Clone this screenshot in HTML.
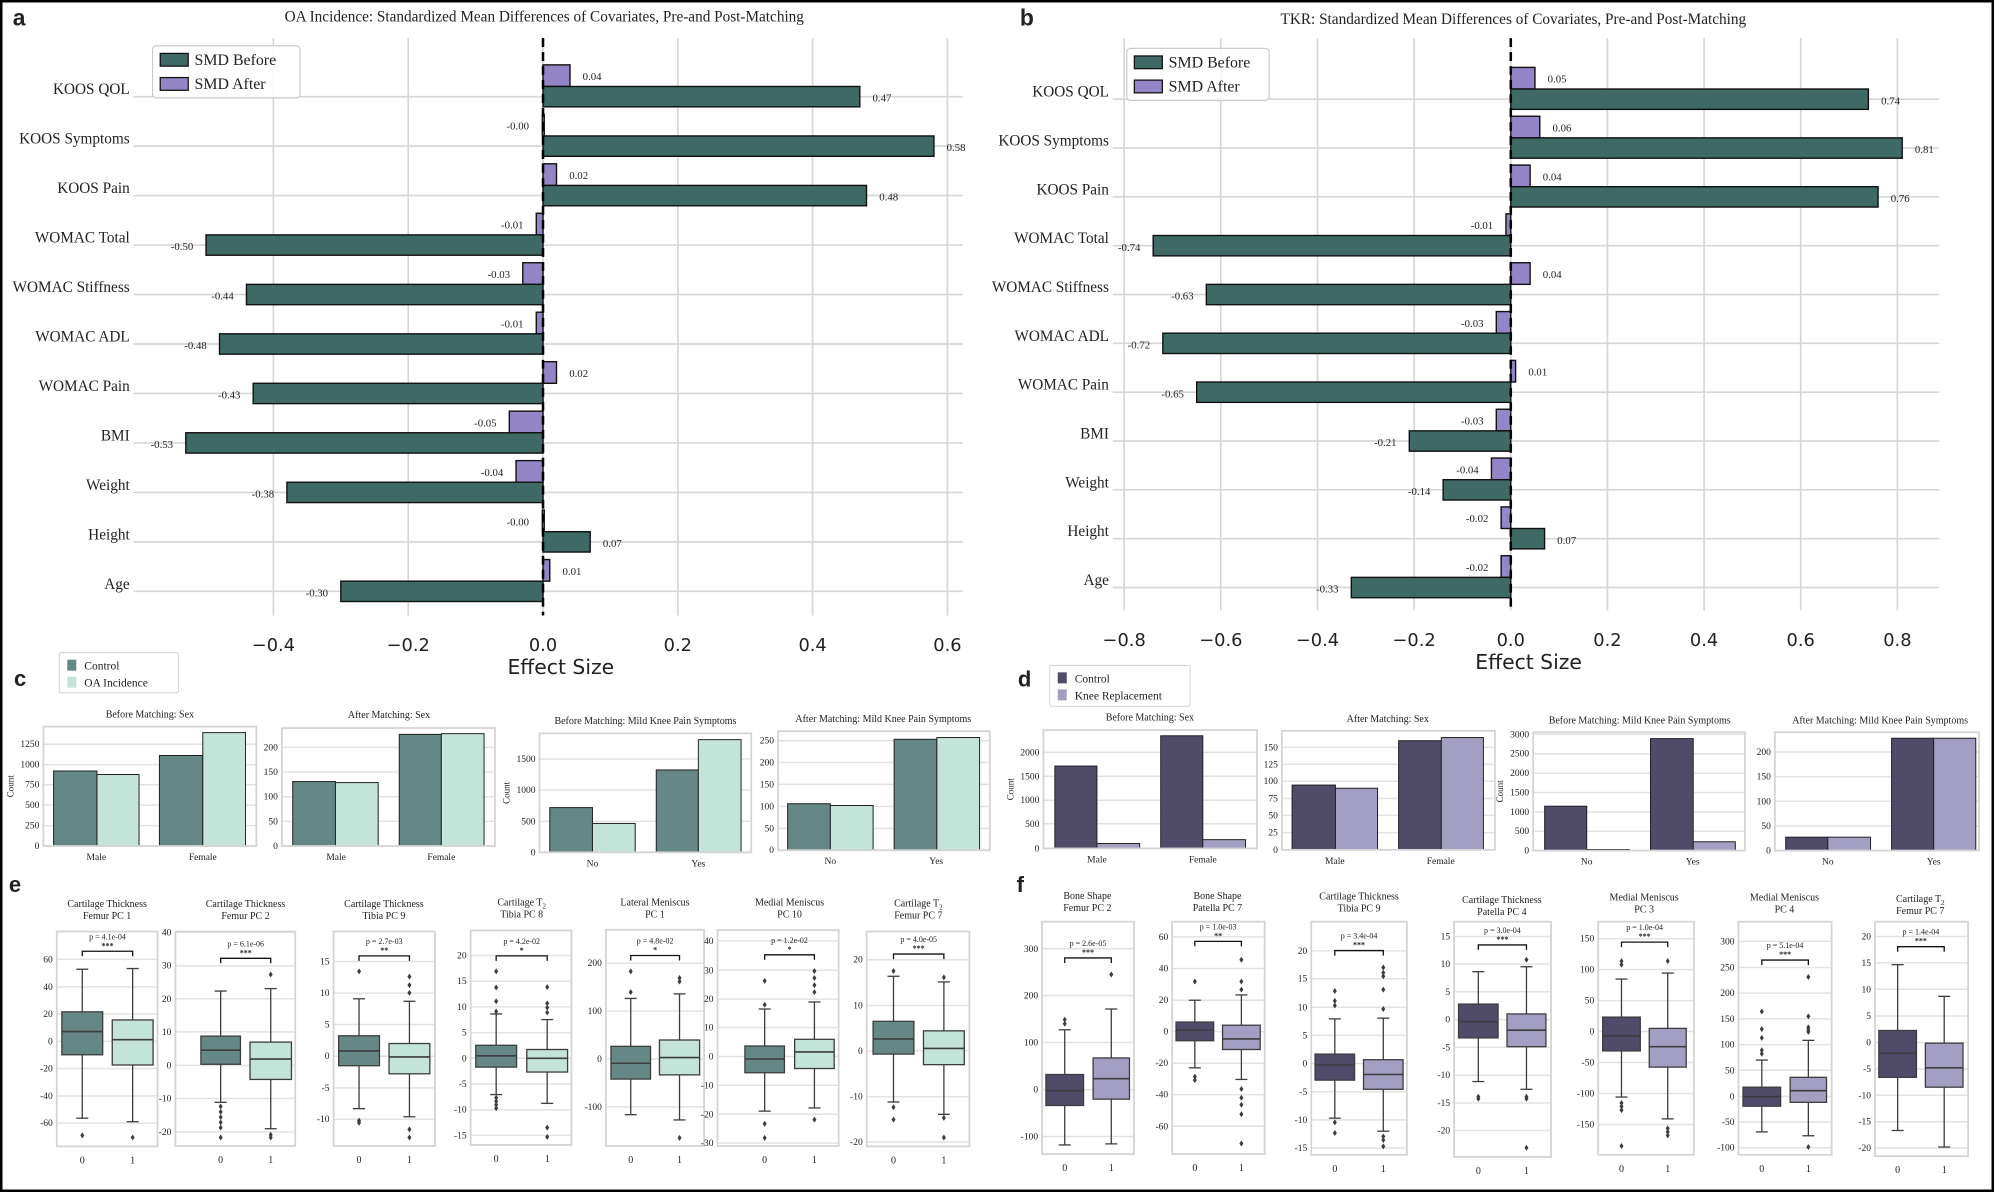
<!DOCTYPE html>
<html><head><meta charset="utf-8"><style>
html,body{margin:0;padding:0;background:#fff;}
svg{display:block;}
text{font-family:"Liberation Serif",serif;fill:#222;}
</style></head><body>
<svg id="s" xmlns="http://www.w3.org/2000/svg" width="1994" height="1192" viewBox="0 0 1994 1192">
<rect x="0" y="0" width="1994" height="1192" fill="#fff"/>
<g id="top" transform="scale(1.2717)"></g>
<g id="bot"></g>
<rect x="1" y="1" width="1992" height="1190" fill="none" stroke="#000" stroke-width="3"/>
</svg>
<script>
var NS="http://www.w3.org/2000/svg";
function el(p,tag,a,t){var e=document.createElementNS(NS,tag);for(var k in a)e.setAttribute(k,a[k]);if(t!==undefined)e.textContent=t;p.appendChild(e);return e;}
var top_=document.getElementById('top'),bot=document.getElementById('bot');
var G='#3e6964',P='#9485c6';
function smd(o){
  var g=top_;
  o.ticks.forEach(function(t){var x=o.x0+t*o.sc;
    el(g,'line',{x1:x,x2:x,y1:o.top,y2:o.bot,stroke:'#d6d6d6','stroke-width':1.3});
    el(g,'text',{x:x,y:o.bot+28,'text-anchor':'middle','font-size':14,style:'font-family:"DejaVu Sans",sans-serif'},(t<0?'\u2212':'')+Math.abs(t).toFixed(1));
  });
  o.labels.forEach(function(l,i){var y=o.y0+i*o.dy;
    el(g,'line',{x1:o.left,x2:o.right,y1:y,y2:y,stroke:'#d6d6d6','stroke-width':1.3});
  });
  o.labels.forEach(function(l,i){var y=o.y0+i*o.dy;
    el(g,'text',{x:o.left-3,y:y-2,'text-anchor':'end','font-size':12},l);
    var a=o.after[i],b=o.before[i];
    var xa=o.x0+a*o.sc,xb=o.x0+b*o.sc;
    el(g,'rect',{x:Math.min(xa,o.x0),y:y-25,width:Math.max(Math.abs(xa-o.x0),1.5),height:17,fill:P,stroke:'#111','stroke-width':1.1});
    el(g,'rect',{x:Math.min(xb,o.x0),y:y-8,width:Math.abs(xb-o.x0),height:16,fill:G,stroke:'#111','stroke-width':1.1});
    var sa=a.toFixed(2),sb=b.toFixed(2);
    if(a>0)el(g,'text',{x:xa+10,y:y-13,'font-size':8.5},sa);else el(g,'text',{x:Math.min(xa,o.x0-1)-10,y:y-13,'font-size':8.5,'text-anchor':'end'},sa);
    if(b>0)el(g,'text',{x:xb+10,y:y+4,'font-size':8.5},sb);else el(g,'text',{x:xb-10,y:y+4,'font-size':8.5,'text-anchor':'end'},sb);
  });
  el(g,'line',{x1:o.x0,x2:o.x0,y1:o.top,y2:o.bot,stroke:'#000','stroke-width':2,'stroke-dasharray':'7,4'});
  el(g,'text',{x:o.tx,y:o.ty,'text-anchor':'middle','font-size':12},o.title);
  el(g,'text',{x:o.x0+14,y:o.bot+46,'text-anchor':'middle','font-size':16,style:'font-family:"DejaVu Sans",sans-serif'},'Effect Size');
  var L=o.leg;
  el(g,'rect',{x:L[0],y:L[1],width:L[2],height:41,fill:'#fff','fill-opacity':0.85,stroke:'#ccc',rx:3});
  el(g,'rect',{x:L[0]+6,y:L[1]+6,width:22,height:10,fill:G,stroke:'#111'});
  el(g,'rect',{x:L[0]+6,y:L[1]+25,width:22,height:10,fill:P,stroke:'#111'});
  el(g,'text',{x:L[0]+33,y:L[1]+15,'font-size':12.5},'SMD Before');
  el(g,'text',{x:L[0]+33,y:L[1]+34,'font-size':12.5},'SMD After');
  el(g,'text',{x:o.lx,y:20,'font-size':18,'font-weight':'bold',style:'font-family:"Liberation Sans",sans-serif'},o.letter);
}
var labs=['KOOS QOL','KOOS Symptoms','KOOS Pain','WOMAC Total','WOMAC Stiffness','WOMAC ADL','WOMAC Pain','BMI','Weight','Height','Age'];
smd({x0:427,sc:530,y0:76,dy:38.9,left:105,right:757,top:30,bot:484,ticks:[-0.4,-0.2,0,0.2,0.4,0.6],labels:labs,
 after:[0.04,-0.001,0.02,-0.01,-0.03,-0.01,0.02,-0.05,-0.04,-0.001,0.01],before:[0.47,0.58,0.48,-0.50,-0.44,-0.48,-0.43,-0.53,-0.38,0.07,-0.30],
 title:'OA Incidence: Standardized Mean Differences of Covariates, Pre-and Post-Matching',tx:428,ty:17,leg:[120,36,116],letter:'a',lx:10});
smd({x0:1188,sc:380,y0:78,dy:38.4,left:875,right:1525,top:30,bot:480,ticks:[-0.8,-0.6,-0.4,-0.2,0,0.2,0.4,0.6,0.8],labels:labs,
 after:[0.05,0.06,0.04,-0.01,0.04,-0.03,0.01,-0.03,-0.04,-0.02,-0.02],before:[0.74,0.81,0.76,-0.74,-0.63,-0.72,-0.65,-0.21,-0.14,0.07,-0.33],
 title:'TKR: Standardized Mean Differences of Covariates, Pre-and Post-Matching',tx:1190,ty:19,leg:[886,38,112],letter:'b',lx:802});
// fix -0.00 labels
[].forEach.call(top_.querySelectorAll('text'),function(t){if(t.textContent==='-0.00'||t.textContent==='0.00'){t.textContent='-0.00';}});

// bottom panels in original px
function C1(x){return x/1.568;} function C2(x){return x/1.568+1000;}
function Y(y){return y/2.84+640;}
var GD='#658785',GL='#c4e3d9',PD='#514b6a',PL='#a39fc3';
function frame(cx,ax){var x1=cx(ax[0]),x2=cx(ax[1]),y1=Y(ax[2]),y2=Y(ax[3]);
  return {x1:x1,x2:x2,y1:y1,y2:y2};}
function ticksG(f,ticks){ticks.forEach(function(t){var y=Y(t[1]);
  el(bot,'line',{x1:f.x1,x2:f.x2,y1:y,y2:y,stroke:'#e2e2e2','stroke-width':1.5});
  el(bot,'text',{x:f.x1-4,y:y+3,'text-anchor':'end','font-size':9.5},t[0]);});}
function border(f){el(bot,'rect',{x:f.x1,y:f.y1,width:f.x2-f.x1,height:f.y2-f.y1,fill:'none',stroke:'#d4d4d4','stroke-width':1.8});}
function barp(cx,ax,ticks,bars,xl,title,count){
  var f=frame(cx,ax);ticksG(f,ticks);
  bars.forEach(function(b){var x1=cx(b[0]),x2=cx(b[1]),y=Y(b[2]);
    el(bot,'rect',{x:x1,y:y,width:x2-x1,height:f.y2-y,fill:b[3],stroke:'#222','stroke-width':1});});
  border(f);
  xl.forEach(function(l){el(bot,'text',{x:cx(l[1]),y:f.y2+14,'text-anchor':'middle','font-size':9.5},l[0]);});
  el(bot,'text',{x:cx(title[1]),y:Y(title[2])+3,'text-anchor':'middle','font-size':10},title[0]);
  if(count)el(bot,'text',{x:0,y:0,'font-size':9,'text-anchor':'middle',transform:'translate('+(f.x1-30)+','+((f.y1+f.y2)/2)+') rotate(-90)'},'Count');
}
function boxp(cx,ax,ticks,boxes,cols,br,pt,st,xl,t1,t2,tx,ty){
  var f=frame(cx,ax);ticksG(f,ticks);
  boxes.forEach(function(b,i){var x1=cx(b[0]),x2=cx(b[1]),xm=(x1+x2)/2;
    el(bot,'line',{x1:xm,x2:xm,y1:Y(b[5]),y2:Y(b[2]),stroke:'#3d3d3d','stroke-width':1.3});
    el(bot,'line',{x1:xm,x2:xm,y1:Y(b[4]),y2:Y(b[6]),stroke:'#3d3d3d','stroke-width':1.3});
    el(bot,'line',{x1:xm-6,x2:xm+6,y1:Y(b[5]),y2:Y(b[5]),stroke:'#3d3d3d','stroke-width':1.3});
    el(bot,'line',{x1:xm-6,x2:xm+6,y1:Y(b[6]),y2:Y(b[6]),stroke:'#3d3d3d','stroke-width':1.3});
    el(bot,'rect',{x:x1,y:Y(b[2]),width:x2-x1,height:Y(b[4])-Y(b[2]),fill:cols[i],stroke:'#3d3d3d','stroke-width':1.3});
    el(bot,'line',{x1:x1,x2:x2,y1:Y(b[3]),y2:Y(b[3]),stroke:'#3d3d3d','stroke-width':1.6});
    (b[7]||[]).forEach(function(o){var y=Y(o);el(bot,'path',{d:'M'+xm+' '+(y-3)+'L'+(xm+2)+' '+y+'L'+xm+' '+(y+3)+'L'+(xm-2)+' '+y+'Z',fill:'#3d3d3d'});});
  });
  border(f);
  var xa=(cx(boxes[0][0])+cx(boxes[0][1]))/2,xb=(cx(boxes[1][0])+cx(boxes[1][1]))/2,yb=Y(br);
  el(bot,'path',{d:'M'+xa+' '+(yb+5)+'V'+yb+'H'+xb+'V'+(yb+5),fill:'none',stroke:'#111','stroke-width':1.3});
  el(bot,'text',{x:(xa+xb)/2,y:Y(pt)+3,'text-anchor':'middle','font-size':8},pt===0?'':'');
  el(bot,'text',{x:(xa+xb)/2,y:yb-12,'text-anchor':'middle','font-size':8},st[0]);
  el(bot,'text',{x:(xa+xb)/2,y:yb-3,'text-anchor':'middle','font-size':8,'font-weight':'bold'},st[1]);
  el(bot,'text',{x:xa,y:f.y2+17,'text-anchor':'middle','font-size':10},'0');
  el(bot,'text',{x:xb,y:f.y2+17,'text-anchor':'middle','font-size':10},'1');
  var tt=el(bot,'text',{x:cx(tx),y:Y(ty)+3,'text-anchor':'middle','font-size':10});tt.innerHTML=t1;
  el(bot,'text',{x:cx(tx),y:Y(ty)+15,'text-anchor':'middle','font-size':10},t2);
}
function T(a){return a.map(function(p){return [String(p[0]).replace('-','-'),p[1]];});}
// legends and letters
function legend(cx,x1,y1,x2,y2,c1,c2,l2,letter,lx,ly){
  var X1=cx(x1),Y1=Y(y1),X2=cx(x2),Y2=Y(y2);
  el(bot,'rect',{x:X1,y:Y1,width:X2-X1,height:Y2-Y1,fill:'#fff',stroke:'#d0d0d0',rx:2});
  el(bot,'rect',{x:X1+8,y:Y1+7,width:9,height:11,fill:c1});
  el(bot,'rect',{x:X1+8,y:Y1+24,width:9,height:11,fill:c2});
  el(bot,'text',{x:X1+25,y:Y1+17,'font-size':11.5},'Control');
  el(bot,'text',{x:X1+25,y:Y1+34,'font-size':11.5},l2);
  el(bot,'text',{x:cx(lx),y:Y(ly)+8,'font-size':22,'font-weight':'bold',style:'font-family:"Liberation Sans",sans-serif'},letter);
}
legend(C1,93,36,280,150,GD,GL,'OA Incidence','c',22,108);
legend(C2,78,72,298,188,PD,PL,'Knee Replacement','d',28,110);
el(bot,'text',{x:C1(14),y:Y(690)+9,'font-size':22,'font-weight':'bold',style:'font-family:"Liberation Sans",sans-serif'},'e');
el(bot,'text',{x:C2(26),y:Y(690)+9,'font-size':22,'font-weight':'bold',style:'font-family:"Liberation Sans",sans-serif'},'f');

// c
barp(C1,[68,402,246,585],[[0,585],[250,527],[500,469],[750,411],[1000,354],[1250,296]],
 [[84,152,372,GD],[152,218,382,GL],[250,318,328,GD],[318,385,263,GL]],[['Male',151],['Female',318]],['Before Matching: Sex',235,211],true);
barp(C1,[442,776,250,585],[[0,585],[50,515],[100,445],[150,375],[200,305]],
 [[459,526,402,GD],[526,593,405,GL],[626,692,268,GD],[692,759,266,GL]],[['Male',527],['Female',692]],['After Matching: Sex',610,213],false);
barp(C1,[846,1178,265,603],[[0,603],[500,515],[1000,426],[1500,338]],
 [[862,929,476,GD],[929,996,521,GL],[1029,1095,369,GD],[1095,1162,283,GL]],[['No',929],['Yes',1095]],['Before Matching: Mild Knee Pain Symptoms',1012,230],true);
barp(C1,[1220,1552,259,597],[[0,597],[50,535],[100,473],[150,410],[200,348],[250,286]],
 [[1235,1302,465,GD],[1302,1369,470,GL],[1402,1469,282,GD],[1469,1536,277,GL]],[['No',1302],['Yes',1468]],['After Matching: Mild Knee Pain Symptoms',1385,224],false);
// d
barp(C2,[68,403,256,592],[[0,592],[500,522],[1000,455],[1500,387],[2000,319]],
 [[86,152,358,PD],[152,219,578,PL],[252,318,272,PD],[318,385,567,PL]],[['Male',152],['Female',318]],['Before Matching: Sex',235,220],true);
barp(C2,[442,776,258,596],[[0,596],[25,547],[50,498],[75,450],[100,401],[125,353],[150,305]],
 [[458,526,412,PD],[526,592,421,PL],[625,692,286,PD],[692,758,277,PL]],[['Male',525],['Female',691]],['After Matching: Sex',608,225],false);
barp(C2,[836,1168,262,598],[[0,598],[500,543],[1000,488],[1500,433],[2000,378],[2500,323],[3000,268]],
 [[854,920,472,PD],[920,987,595,PL],[1020,1087,280,PD],[1087,1153,573,PL]],[['No',920],['Yes',1086]],['Before Matching: Mild Knee Pain Symptoms',1003,229],true);
barp(C2,[1215,1535,262,598],[[0,598],[50,528],[100,458],[150,388],[200,318]],
 [[1232,1298,560,PD],[1298,1365,560,PL],[1398,1464,279,PD],[1464,1530,279,PL]],[['No',1298],['Yes',1464]],['After Matching: Mild Knee Pain Symptoms',1380,229],false);

// e boxplots
var EC=[GD,GL];
boxp(C1,[89,247,828,1438],[[60,907],[40,985],[20,1062],[0,1140],[-20,1217],[-40,1295],[-60,1372]],
 [[97,161,1056,1112,1178,935,1358,[1407]],[176,240,1079,1135,1207,933,1368,[1413]]],EC,884,0,['p = 4.1e-04','***'],0,'Cartilage Thickness','Femur PC 1',168,750);
boxp(C1,[275,463,828,1437],[[40,830],[30,925],[20,1019],[10,1113],[0,1208],[-10,1302],[-20,1397]],
 [[315,377,1125,1165,1205,997,1313,[1325,1340,1355,1370,1385,1413]],[392,457,1142,1190,1248,990,1388,[950,1405,1413]]],EC,904,0,['p = 6.1e-06','***'],0,'Cartilage Thickness','Femur PC 2',385,750);
boxp(C1,[523,682,828,1437],[[15,913],[10,1003],[5,1092],[0,1182],[-5,1272],[-10,1361]],
 [[531,595,1124,1167,1209,1019,1331,[941,1365,1371]],[610,674,1146,1184,1232,1026,1354,[956,980,1002,1390,1413]]],EC,897,0,['p = 2.7e-03','**'],0,'Cartilage Thickness','Tibia PC 9',602,750);
boxp(C1,[738,896,825,1434],[[20,896],[15,969],[10,1042],[5,1115],[0,1188],[-5,1261],[-10,1334],[-15,1407]],
 [[746,810,1151,1181,1213,1062,1291,[941,987,1026,1055,1300,1310,1320,1330]],[826,890,1163,1188,1227,1078,1316,[986,1032,1044,1058,1385,1411]]],EC,897,0,['p = 4.2e-02','*'],0,'Cartilage T<tspan font-size="7" dy="3">2</tspan>','Tibia PC 8',818,746);
boxp(C1,[950,1104,823,1437],[[200,918],[100,1054],[0,1190],[-100,1326]],
 [[958,1020,1154,1202,1247,1018,1348,[941,1000]],[1034,1097,1136,1186,1235,1005,1363,[960,970,1414]]],EC,896,0,['p = 4.8e-02','*'],0,'Lateral Meniscus','PC 1',1027,746);
boxp(C1,[1125,1315,824,1437],[[40,855],[30,938],[20,1020],[10,1101],[0,1183],[-10,1265],[-20,1347],[-30,1429]],
 [[1168,1230,1153,1190,1229,1048,1338,[968,1036,1374,1414]],[1246,1308,1134,1170,1217,1028,1329,[940,960,980,1000,1362]]],EC,894,0,['p = 1.2e-02','*'],0,'Medial Meniscus','PC 10',1238,746);
boxp(C1,[1359,1520,828,1438],[[20,908],[10,1038],[0,1167],[-10,1297],[-20,1426]],
 [[1369,1433,1083,1133,1176,955,1312,[940,1327,1362]],[1448,1512,1110,1160,1206,971,1347,[958,1357,1413]]],EC,892,0,['p = 4.0e-05','***'],0,'Cartilage T<tspan font-size="7" dy="3">2</tspan>','Femur PC 7',1440,748);
// f boxplots
var FC=[PD,PL];
boxp(C2,[66,210,800,1460],[[300,877],[200,1010],[100,1143],[0,1277],[-100,1410]],
 [[72,131,1234,1280,1322,1107,1434,[1078,1090]],[146,203,1187,1246,1304,1048,1431,[950]]],FC,903,0,['p = 2.6e-05','***'],0,'Bone Shape','Femur PC 2',137,727);
boxp(C2,[270,415,800,1460],[[60,843],[40,933],[20,1023],[0,1112],[-20,1202],[-40,1291],[-60,1381]],
 [[276,335,1085,1108,1138,1023,1215,[970,1240,1250]],[349,408,1094,1133,1163,1008,1248,[908,970,993,1275,1300,1320,1347,1430]]],FC,856,0,['p = 1.0e-03','**'],0,'Bone Shape','Patella PC 7',341,727);
boxp(C2,[488,638,800,1462],[[20,883],[15,962],[10,1043],[5,1123],[0,1203],[-5,1283],[-10,1363],[-15,1443]],
 [[494,556,1176,1207,1250,1076,1358,[997,1025,1038,1370,1400]],[570,632,1192,1234,1276,1074,1395,[930,945,955,993,1048,1410,1420,1438]]],FC,882,0,['p = 3.4e-04','***'],0,'Cartilage Thickness','Tibia PC 9',563,729);
boxp(C2,[712,864,800,1468],[[15,842],[10,920],[5,999],[0,1078],[-5,1157],[-10,1236],[-15,1315],[-20,1393]],
 [[719,781,1034,1084,1130,942,1254,[1297,1303]],[795,856,1062,1108,1155,928,1276,[908,1297,1303,1442]]],FC,866,0,['p = 3.0e-04','***'],0,'Cartilage Thickness','Patella PC 4',787,739);
boxp(C2,[938,1088,800,1462],[[150,848],[100,936],[50,1024],[0,1112],[-50,1200],[-100,1288],[-150,1376]],
 [[945,1004,1071,1124,1167,963,1298,[912,922,1315,1325,1335,1437]],[1018,1076,1103,1155,1213,946,1360,[912,1387,1397,1407]]],FC,858,0,['p = 1.0e-04','***'],0,'Medial Meniscus','PC 3',1010,732);
boxp(C2,[1158,1304,800,1462],[[300,856],[250,930],[200,1003],[150,1076],[100,1149],[50,1222],[0,1296],[-50,1369],[-100,1442]],
 [[1165,1224,1270,1297,1324,1193,1397,[1055,1105,1130,1165,1175]],[1239,1296,1242,1280,1313,1137,1408,[957,1069,1100,1107,1113,1440]]],FC,909,0,['p = 5.1e-04','***'],0,'Medial Meniscus','PC 4',1230,732);
boxp(C2,[1372,1518,800,1466],[[20,842],[15,917],[10,992],[5,1068],[0,1143],[-5,1218],[-10,1293],[-15,1368],[-20,1443]],
 [[1378,1437,1109,1174,1242,922,1393,[]],[1451,1510,1145,1215,1270,1012,1440,[]]],FC,871,0,['p = 1.4e-04','***'],0,'Cartilage T<tspan font-size="7" dy="3">2</tspan>','Femur PC 7',1443,735);
</script>
</body></html>
